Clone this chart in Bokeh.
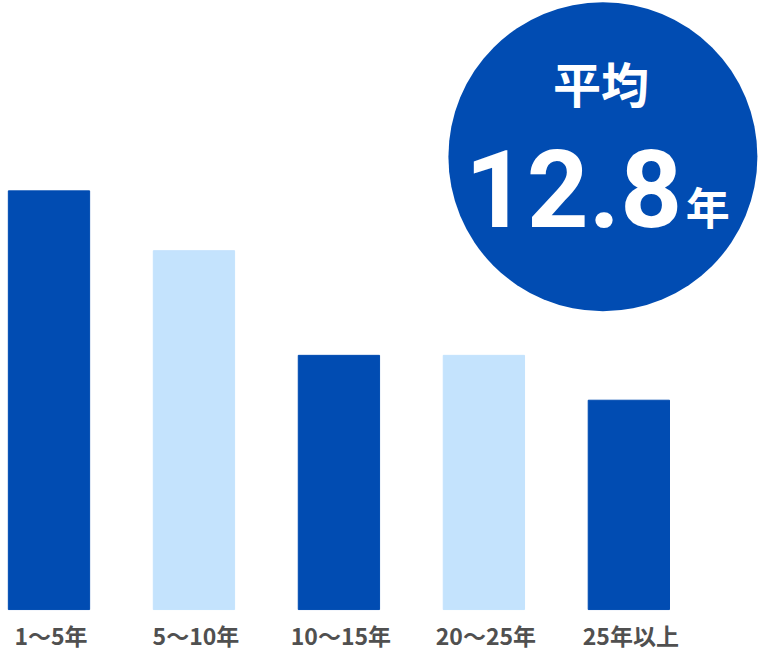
from bokeh.plotting import figure
from bokeh.models import Range1d, ColumnDataSource
from bokeh.core.properties import value
from bokeh.embed import file_html
from bokeh.resources import INLINE

categories = ["1〜5年", "5〜10年", "10〜15年", "20〜25年", "25年以上"]
shares = [28, 24, 17, 17, 14]
colors = ["#014cb2", "#c4e3fd", "#014cb2", "#c4e3fd", "#014cb2"]
avg_title = "平均"
avg_value = "12.8"
avg_unit = "年"

W, H = 765, 652
SX, SY = W / 781.0, H / 668.0
step = 148.0 * SX
x0 = 49.5 * SX
px_per_unit = 15.32 * SY
base_y = 624 * SY

xs = list(range(len(categories)))
p = figure(width=W, height=H, output_backend="svg", toolbar_location=None,
           x_range=Range1d(-x0 / step, (W - x0) / step),
           y_range=Range1d(-(H - base_y) / px_per_unit, base_y / px_per_unit),
           x_axis_location=None, y_axis_location=None, min_border=0)
p.outline_line_color = None
p.xgrid.visible = False
p.ygrid.visible = False
p.background_fill_color = "white"


def dx(px):
    return (px * SX - x0) / step


def dy(py):
    return (base_y - py * SY) / px_per_unit


src = ColumnDataSource(dict(x=xs, top=shares, color=colors, label=categories,
                            ly=[dy(650)] * len(xs)))
p.vbar(x="x", top="top", bottom=0, width=83 / 148.0, color="color", source=src)
p.text(x="x", y="ly", text="label", source=src, text_align="center",
       text_baseline="middle", text_font=value("Noto Sans CJK JP"),
       text_font_size="23px", text_font_style="bold", text_color="#505050",
       x_offset=2)

p.scatter(x=[dx(615)], y=[dy(160)], size=309, marker="circle",
          fill_color="#014cb2", line_color=None)
p.text(x=[dx(613)], y=[dy(84)], text=[avg_title], text_align="center",
       text_baseline="middle", text_font=value("Noto Sans CJK JP"),
       text_font_size="48px", text_font_style="bold", text_color="white")
p.text(x=[dx(585)], y=[dy(193)], text=[avg_value], text_align="center",
       text_baseline="alphabetic", text_font=value("Roboto"),
       text_font_size="108px", text_font_style="bold", text_color="white")
p.text(x=[dx(722)], y=[dy(211)], text=[avg_unit], text_align="center",
       text_baseline="middle", text_font=value("Noto Sans CJK JP"),
       text_font_size="44px", text_font_style="bold", text_color="white")

open("out.html", "w").write(file_html(p, INLINE))
